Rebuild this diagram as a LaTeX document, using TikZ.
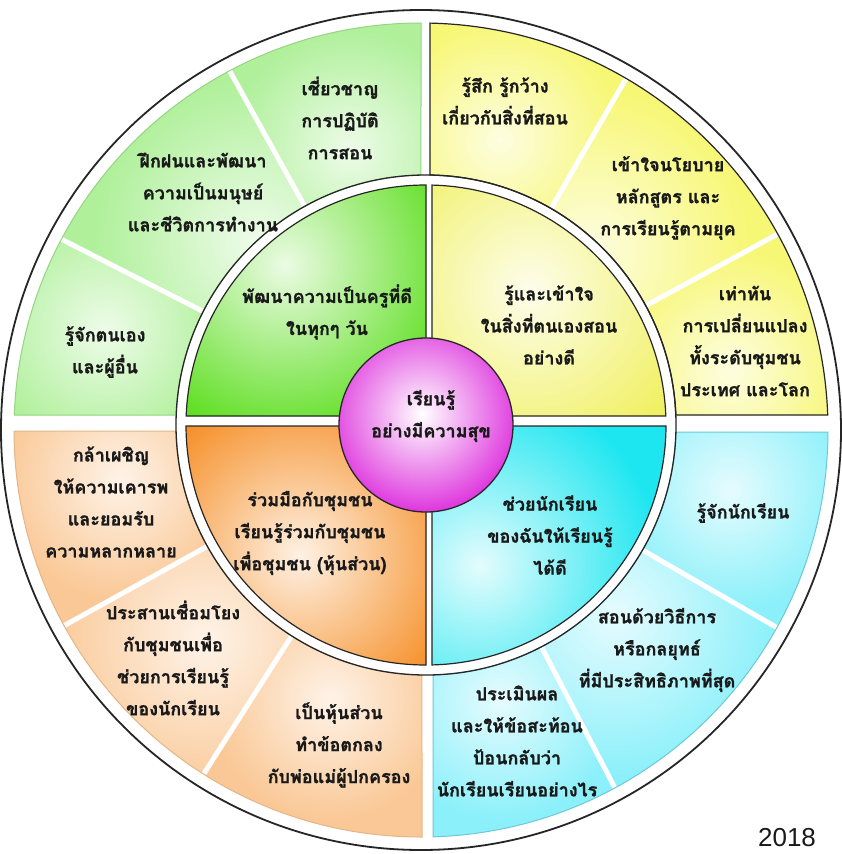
\documentclass[tikz,border=0pt]{standalone}
\usepackage{fontspec}
\newfontfamily\thaifont[Script=Thai,BoldFeatures={FakeBold=1.2}]{Loma}
\newfontfamily\digitfont{Liberation Sans}
\definecolor{ogreen}{RGB}{176,240,155}
\definecolor{oyellow}{RGB}{247,247,118}
\definecolor{opeach}{RGB}{250,200,150}
\definecolor{ocyan}{RGB}{140,240,250}
\definecolor{ogreenline}{RGB}{150,212,132}
\definecolor{opeachline}{RGB}{228,182,134}
\definecolor{ocyanline}{RGB}{110,200,215}
\definecolor{igreen}{RGB}{92,222,30}
\definecolor{iyellow}{RGB}{240,240,95}
\definecolor{iorange}{RGB}{245,138,30}
\definecolor{icyan}{RGB}{30,230,240}
\definecolor{mag}{RGB}{218,30,218}
% outer quadrant geometry: #1 x of vertical edge, #2 y of horizontal edge, #3 sx, #4 sy
\newcommand\setouter[4]{%
  \pgfmathsetmacro\oAx{#1}%
  \pgfmathsetmacro\oAy{-430+(#4)*100*sqrt(4.07^2-((#1-421)/100)^2)}%
  \pgfmathsetmacro\oBx{421+(#3)*100*sqrt(4.07^2-((#2+430)/100)^2)}%
  \pgfmathsetmacro\oBy{#2}%
  \pgfmathsetmacro\oCx{426+(#3)*100*sqrt(2.5^2-((#2+425)/100)^2)}%
  \pgfmathsetmacro\oDy{-425+(#4)*100*sqrt(2.5^2-((#1-426)/100)^2)}%
  \pgfmathsetmacro\oa{atan2(\oAy+430,\oAx-421)}%
  \pgfmathsetmacro\ob{atan2(\oBy+430,\oBx-421)}%
  \pgfmathsetmacro\oc{atan2(\oBy+425,\oCx-426)}%
  \pgfmathsetmacro\od{atan2(\oDy+425,\oAx-426)}%
}
\newcommand\outerpath{(\oAx,\oAy) arc[start angle=\oa, end angle=\ob, radius=407] -- (\oCx,\oBy) arc[start angle=\oc, end angle=\od, radius=250] -- cycle}
\newcommand\setinner[4]{%
  \pgfmathsetmacro\iAy{-425+(#4)*100*sqrt(2.4^2-((#1-426)/100)^2)}%
  \pgfmathsetmacro\iBx{426+(#3)*100*sqrt(2.4^2-((#2+425)/100)^2)}%
  \pgfmathsetmacro\ia{atan2(\iAy+425,#1-426)}%
  \pgfmathsetmacro\ib{atan2(#2+425,\iBx-426)}%
  \def\iX{#1}\def\iY{#2}%
}
\newcommand\innerpath{(\iX,\iY) -- (\iX,\iAy) arc[start angle=\ia, end angle=\ib, radius=240] -- cycle}
% highlight in a sub-sector: #1 a1, #2 a2, #3 x, #4 y (image), #5 h, #6 colour
\newcommand\hl[6]{%
  \begin{scope}
    \clip (426,-425) -- +(#1:700) -- +({(#1+#2)/2}:700) -- +(#2:700) -- cycle;
    \shade[inner color=#6!22!white, outer color=#6] (#3,-#4) circle ({2*#5});
  \end{scope}}
\begin{document}
\begin{tikzpicture}[x=1pt,y=1pt,
  txt/.style={align=center, font=\thaifont\bfseries\fontsize{18}{32}\selectfont, text=black!90, inner sep=0pt},
  sepline/.style={line width=5pt, white},
  quadline/.style={line width=1.2pt, black!85}]
\useasboundingbox (0,0) rectangle (842,-854);
\fill[white] (0,0) rectangle (842,-854);
% outer circle
\draw[line width=1.8pt, black!85] (421,-430) circle (420);
% ---- outer green
\setouter{421}{-415}{-1}{1}
\begin{scope}
  \clip \outerpath;
  \fill[ogreen] (0,0) rectangle (842,-854);
  \hl{80}{119}{350}{150}{60}{ogreen}
  \hl{119}{153}{255}{240}{80}{ogreen}
  \hl{153}{190}{105}{330}{60}{ogreen}
  \draw[sepline] (426,-425) -- +(119:450);
  \draw[sepline] (426,-425) -- +(153:450);
\end{scope}
\draw[ogreenline, line width=1pt] \outerpath;
% ---- outer yellow
\setouter{430}{-415}{1}{1}
\begin{scope}
  \clip \outerpath;
  \fill[oyellow] (0,0) rectangle (842,-854);
  \hl{60}{100}{500}{140}{60}{oyellow}
  \hl{28.5}{60}{590}{250}{80}{oyellow}
  \hl{-10}{28.5}{730}{370}{60}{oyellow}
  \draw[sepline] (426,-425) -- +(60:450);
  \draw[sepline] (426,-425) -- +(28.5:450);
\end{scope}
\draw[quadline] \outerpath;
% ---- outer peach
\setouter{422}{-431}{-1}{-1}
\begin{scope}
  \clip \outerpath;
  \fill[opeach] (0,0) rectangle (842,-854);
  \hl{170}{209}{120}{480}{60}{opeach}
  \hl{209}{237.5}{205}{640}{80}{opeach}
  \hl{237.5}{280}{330}{700}{60}{opeach}
  \draw[sepline] (426,-425) -- +(209:450);
  \draw[sepline] (426,-425) -- +(237.5:450);
\end{scope}
\draw[opeachline, line width=1pt] \outerpath;
% ---- outer cyan
\setouter{433}{-432}{1}{-1}
\begin{scope}
  \clip \outerpath;
  \fill[ocyan] (0,0) rectangle (842,-854);
  \hl{260}{297.5}{500}{700}{60}{ocyan}
  \hl{297.5}{330}{615}{615}{80}{ocyan}
  \hl{330}{370}{730}{490}{60}{ocyan}
  \draw[sepline] (426,-425) -- +(297.5:450);
  \draw[sepline] (426,-425) -- +(330:450);
\end{scope}
\draw[ocyanline, line width=1pt] \outerpath;
% ring
\draw[line width=1.3pt, black!85] (426,-425) circle (250);
% ---- inner quadrants
\setinner{426}{-416}{-1}{1}
\begin{scope}\clip \innerpath;
  \fill[igreen] (0,0) rectangle (842,-854);
  \shade[inner color=igreen!12!white, outer color=igreen] (285,-265) circle (180);
\end{scope}
\draw[quadline] \innerpath;
\setinner{432}{-416}{1}{1}
\begin{scope}\clip \innerpath;
  \fill[iyellow] (0,0) rectangle (842,-854);
  \shade[inner color=iyellow!12!white, outer color=iyellow] (530,-290) circle (180);
\end{scope}
\draw[quadline] \innerpath;
\setinner{426}{-426}{-1}{-1}
\begin{scope}\clip \innerpath;
  \fill[iorange] (0,0) rectangle (842,-854);
  \shade[inner color=iorange!12!white, outer color=iorange] (300,-555) circle (180);
\end{scope}
\draw[quadline] \innerpath;
\setinner{432}{-426}{1}{-1}
\begin{scope}\clip \innerpath;
  \fill[icyan] (0,0) rectangle (842,-854);
  \shade[inner color=icyan!12!white, outer color=icyan] (480,-565) circle (180);
\end{scope}
\draw[quadline] \innerpath;
% ---- centre
\begin{scope}
  \clip (426,-425) circle (87);
  \fill[mag] (426,-425) circle (87);
  \shade[inner color=white, outer color=mag] (422,-414) circle (110);
\end{scope}
\draw[line width=1.3pt, black!85] (426,-425) circle (87);
% ---- texts
\node[txt] (g1) at (340,-118) {เชี่ยวชาญ\\การปฏิบัติ\\การสอน};
\node[txt] (g2) at (203,-192) {ฝึกฝนและพัฒนา\\ความเป็นมนุษย์\\และชีวิตการทำงาน};
\node[txt] (g3) at (105,-352) {รู้จักตนเอง\\และผู้อื่น};
\node[txt] (y1) at (505,-101) {รู้สึก รู้กว้าง\\เกี่ยวกับสิ่งที่สอน};
\node[txt] (y2) at (668,-198) {เข้าใจนโยบาย\\หลักสูตร และ\\การเรียนรู้ตามยุค};
\node[txt] (y3) at (745,-341) {เท่าทัน\\การเปลี่ยนแปลง\\ทั้งระดับชุมชน\\ประเทศ และโลก};
\node[txt] (p1) at (111,-502) {กล้าเผชิญ\\ให้ความเคารพ\\และยอมรับ\\ความหลากหลาย};
\node[txt] (p2) at (173,-658) {ประสานเชื่อมโยง\\กับชุมชนเพื่อ\\ช่วยการเรียนรู้\\ของนักเรียน};
\node[txt] (p3) at (339,-745) {เป็นหุ้นส่วน\\ทำข้อตกลง\\กับพ่อแม่ผู้ปกครอง};
\node[txt] (c1) at (743,-513) {รู้จักนักเรียน};
\node[txt] (c2) at (657,-650) {สอนด้วยวิธีการ\\หรือกลยุทธ์\\ที่มีประสิทธิภาพที่สุด};
\node[txt] (c3) at (517,-741) {ประเมินผล\\และให้ข้อสะท้อน\\ป้อนกลับว่า\\นักเรียนเรียนอย่างไร};
\node[txt] (ig) at (327,-312) {พัฒนาความเป็นครูที่ดี\\ในทุกๆ วัน};
\node[txt] (iy) at (549,-325) {รู้และเข้าใจ\\ในสิ่งที่ตนเองสอน\\อย่างดี};
\node[txt] (io) at (310,-533) {ร่วมมือกับชุมชน\\เรียนรู้ร่วมกับชุมชน\\เพื่อชุมชน (หุ้นส่วน)};
\node[txt] (ic) at (550,-535) {ช่วยนักเรียน\\ของฉันให้เรียนรู้\\ได้ดี};
\node[txt] (core) at (431,-416) {เรียนรู้\\อย่างมีความสุข};
\node[font=\digitfont\fontsize{26}{28}\selectfont, anchor=base, inner sep=0pt, text=black!90] (year) at (787,-846) {2018};
\end{tikzpicture}
\end{document}
